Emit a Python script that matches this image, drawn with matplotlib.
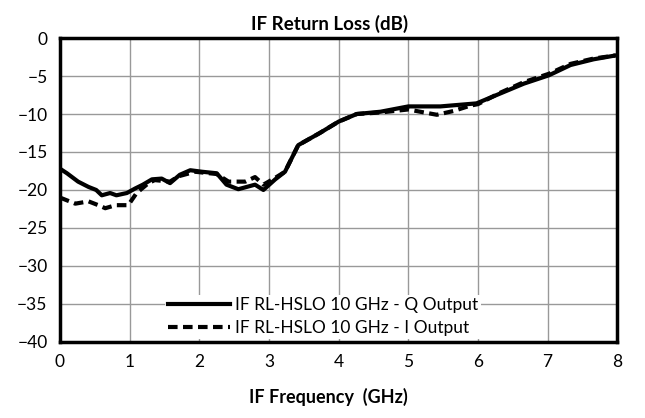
import matplotlib
matplotlib.use('Agg')
import matplotlib.pyplot as plt

plt.rcParams['font.family'] = ['Lato', 'DejaVu Sans']

# IF return loss, Q output (solid)
freq_q = [0.0, 0.1, 0.26, 0.41, 0.52, 0.6, 0.72, 0.81, 0.96, 1.08, 1.19, 1.32, 1.46,
          1.58, 1.72, 1.87, 2.04, 2.25, 2.39, 2.56, 2.8, 2.92, 3.09, 3.23, 3.42,
          3.73, 4.0, 4.26, 4.6, 5.0, 5.46, 5.98, 6.32, 6.66, 7.02, 7.33, 7.66, 7.97]
rl_q = [-17.2, -17.8, -18.9, -19.6, -20.0, -20.7, -20.4, -20.7, -20.4, -19.8, -19.3, -18.6, -18.5,
        -19.1, -18.0, -17.4, -17.6, -17.8, -19.3, -19.9, -19.3, -20.0, -18.6, -17.6, -14.1,
        -12.5, -11.0, -10.0, -9.7, -9.0, -9.0, -8.6, -7.3, -6.0, -4.9, -3.55, -2.8, -2.3]

# IF return loss, I output (dashed)
freq_i = [0.0, 0.22, 0.41, 0.55, 0.65, 0.8, 0.98, 1.1, 1.27, 1.36, 1.58, 1.7, 1.94,
          2.25, 2.42, 2.66, 2.8, 2.92, 3.09, 3.23, 3.42, 3.73, 4.0, 4.26, 4.6,
          5.0, 5.17, 5.41, 5.65, 5.89, 6.0, 6.32, 6.66, 7.02, 7.33, 7.66, 7.97]
rl_i = [-21.0, -21.8, -21.5, -22.0, -22.4, -22.0, -22.0, -20.4, -19.1, -18.7, -18.9, -18.2, -17.6,
        -17.9, -18.9, -18.9, -18.3, -19.3, -18.4, -17.6, -14.1, -12.5, -11.0, -10.0, -9.8,
        -9.4, -9.7, -10.1, -9.6, -8.9, -8.7, -7.2, -5.8, -4.7, -3.4, -2.7, -2.3]

x_ticks = [0, 1, 2, 3, 4, 5, 6, 7, 8]
y_ticks = [0, -5, -10, -15, -20, -25, -30, -35, -40]

fig = plt.figure(figsize=(6.45, 4.18), dpi=100)
ax = fig.add_axes([0.093, 0.182, 0.864, 0.727])

ax.plot(freq_q, rl_q, color='black', linewidth=3.0, label='IF RL-HSLO 10 GHz - Q Output')
ax.plot(freq_i, rl_i, color='black', linewidth=3.0, linestyle=(0, (2.3, 1.3)),
        label='IF RL-HSLO 10 GHz - I Output')

ax.set_xlim(0, 8)
ax.set_ylim(-40, 0)
ax.set_xticks(x_ticks)
ax.set_yticks(y_ticks)
ax.tick_params(length=0, labelsize=12.5, pad=9)
ax.grid(color='#999999', linewidth=1.0)
ax.set_axisbelow(True)
for s in ax.spines.values():
    s.set_linewidth(2.5)

ax.set_title('IF Return Loss (dB)', fontsize=13.5, fontweight='bold', pad=6, x=0.483)
ax.set_xlabel('IF Frequency  (GHz)', fontsize=13, fontweight='bold', labelpad=14)
ax.xaxis.set_label_coords(0.482, -0.15)

leg = ax.legend(loc='lower center', bbox_to_anchor=(0.472, -0.018), fontsize=12.5, frameon=True,
                handlelength=3.6, handletextpad=0.3, borderpad=0.15, labelspacing=0.4,
                fancybox=False)
leg.get_frame().set_facecolor('white')
leg.get_frame().set_edgecolor('none')
leg.get_frame().set_alpha(1)

plt.savefig('out.png', dpi=100)
